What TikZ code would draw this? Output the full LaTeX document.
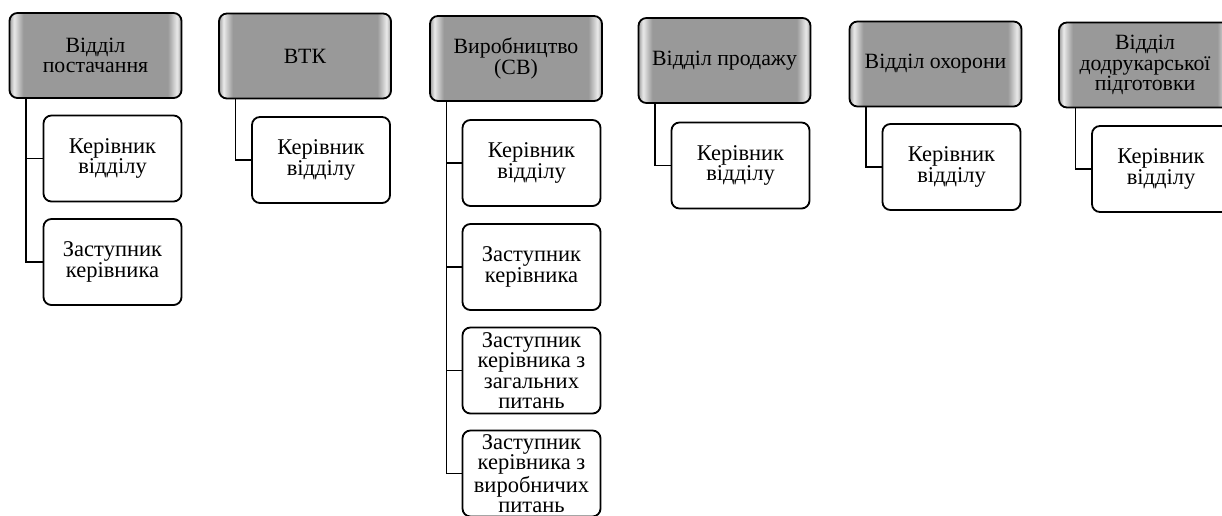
\documentclass[tikz,border=0pt]{standalone}
\usepackage{fontspec}
\setmainfont{Liberation Serif}
\newfontfamily\orgfont{Liberation Serif}
\usetikzlibrary{positioning,calc}
\pgfdeclarehorizontalshading{headshade}{100bp}{color(0bp)=(black!40); color(25bp)=(black!40); color(26.3bp)=(black!8); color(29bp)=(black!40); color(71bp)=(black!40); color(73.7bp)=(black!8); color(75bp)=(black!40); color(100bp)=(black!40)}
\tikzset{
	head/.style={draw, line width=1.3pt, rounded corners=2mm, shading=headshade, minimum width=4.3cm, minimum height=2.125cm, align=center, inner sep=1pt, font=\orgfont\fontsize{15.5}{14.5}\selectfont},
	sub/.style={draw, line width=1.3pt, rounded corners=2mm, fill=white, minimum width=3.45cm, minimum height=2.15cm, align=center, inner sep=1pt, font=\orgfont\fontsize{16}{14.5}\selectfont},
	link/.style={line width=1pt}
}

\begin{document}
\begin{tikzpicture}[x=0.025cm, y=-0.025cm]
	\useasboundingbox (0,0) rectangle (1222,515);
	% heads of departments
	\node[head] (h1) at (95.5, 55.5) {Відділ\\постачання};
	\node[head] (h2) at (305, 56) {ВТК};
	\node[head] (h3) at (516, 58.5) {Виробництво\\(СВ)};
	\node[head] (h4) at (724.5, 60.5) {Відділ продажу};
	\node[head] (h5) at (935.5, 64) {Відділ охорони};
	\node[head] (h6) at (1145, 65) {Відділ\\додрукарської\\підготовки};
	% staff
	\node[sub] (h1c1) at (112.5, 158.5) {Керівник\\відділу};
	\node[sub] (h1c2) at (112.5, 262) {Заступник\\керівника};
	\node[sub] (h2c1) at (321, 160) {Керівник\\відділу};
	\node[sub] (h3c1) at (531.5, 163) {Керівник\\відділу};
	\node[sub] (h3c2) at (531.5, 267) {Заступник\\керівника};
	\node[sub] (h3c3) at (531.5, 370.5) {Заступник\\керівника з\\загальних\\питань};
	\node[sub] (h3c4) at (531.5, 473.5) {Заступник\\керівника з\\виробничих\\питань};
	\node[sub] (h4c1) at (740.5, 165.5) {Керівник\\відділу};
	\node[sub] (h5c1) at (951.5, 167) {Керівник\\відділу};
	\node[sub] (h6c1) at (1161, 169) {Керівник\\відділу};
	% connectors
	\draw[link] (h1.south west) ++(17.5,0) |- (h1c1.west);
	\draw[link] (h1.south west) ++(17.5,0) |- (h1c2.west);
	\draw[link] (h2.south west) ++(17.5,0) |- (h2c1.west);
	\draw[link] (h3.south west) ++(17.5,0) |- (h3c1.west);
	\draw[link] (h3.south west) ++(17.5,0) |- (h3c2.west);
	\draw[link] (h3.south west) ++(17.5,0) |- (h3c3.west);
	\draw[link] (h3.south west) ++(17.5,0) |- (h3c4.west);
	\draw[link] (h4.south west) ++(17.5,0) |- (h4c1.west);
	\draw[link] (h5.south west) ++(17.5,0) |- (h5c1.west);
	\draw[link] (h6.south west) ++(17.5,0) |- (h6c1.west);
\end{tikzpicture}
\end{document}
